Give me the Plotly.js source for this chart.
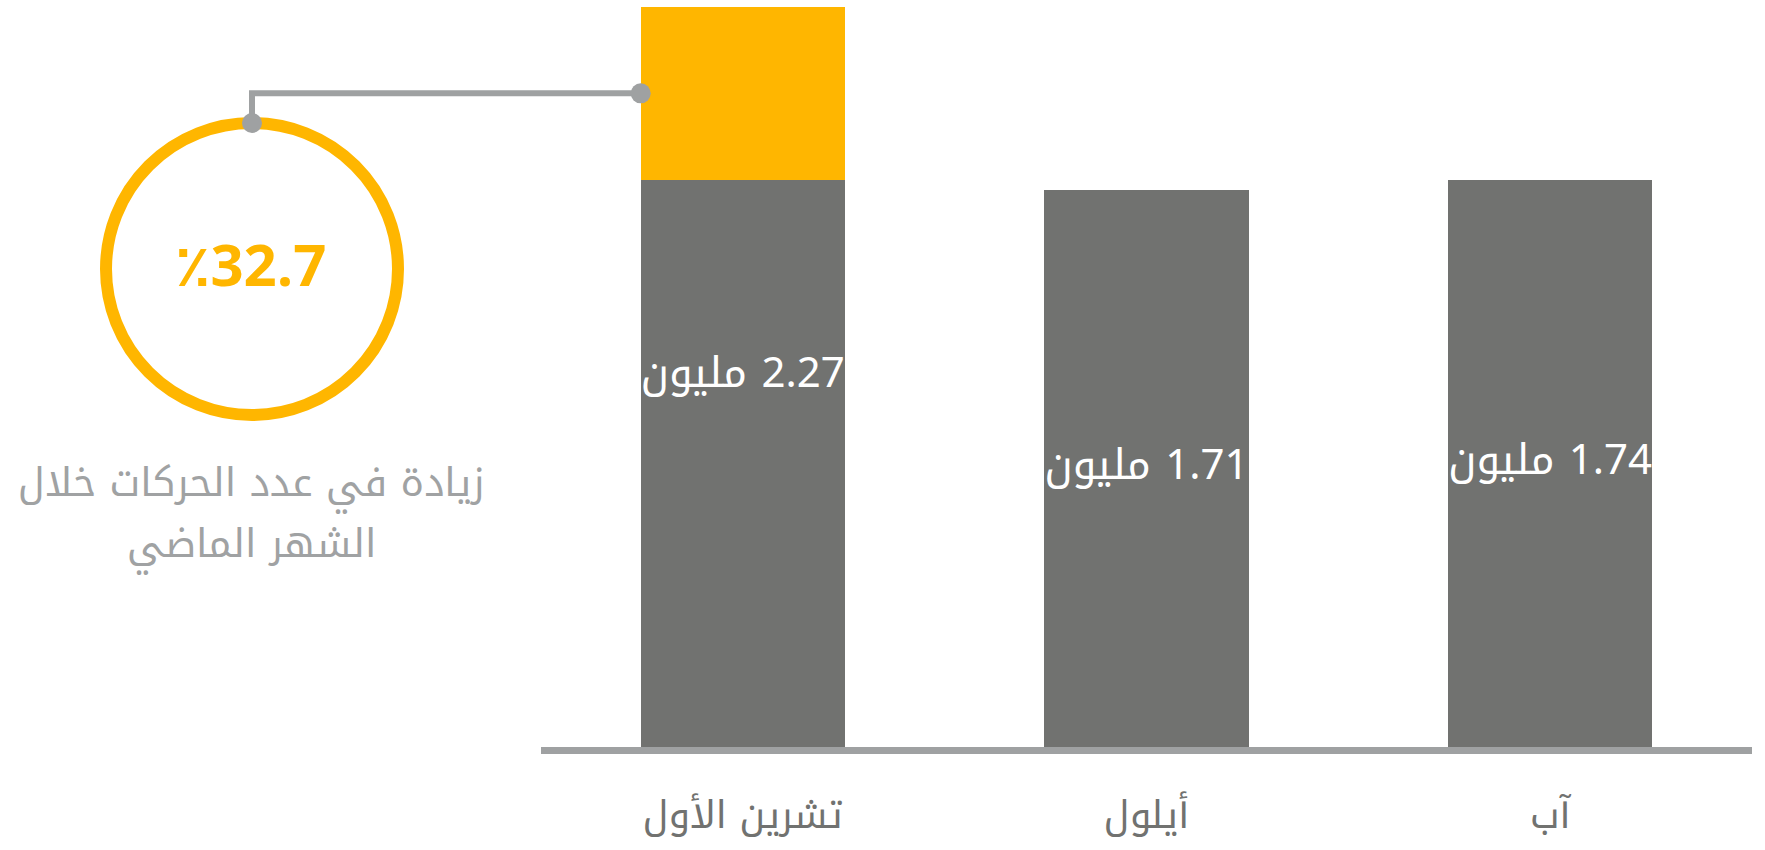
<!DOCTYPE html>
<html>
<head>
<meta charset="utf-8">
<script src="https://cdn.plot.ly/plotly-3.0.1.min.js"></script>
<style>html,body{margin:0;padding:0;background:#fff;}#chart{width:1765px;height:850px;}</style>
</head>
<body>
<div id="chart"></div>
<script>
// ---- data ----
const months = ['تشرين الأول', 'أيلول', 'آب'];
const monthTotals = [2.27, 1.71, 1.74];        // millions of transactions
const baseValues = [1.74, 1.71, 1.74];         // grey part of each bar
const increaseValues = [0.53, 0, 0];           // yellow part (increase)
const unitLabel = 'مليون';
const increasePct = '٪32.7';
const captionLines = ['زيادة في عدد الحركات خلال', 'الشهر الماضي'];

// ---- layout constants ----
const W = 1765, H = 850;
const M = {l: 541, r: 13, t: 0, b: 103};
const yMax = 2.2914;
const barGap = 0.494;
const YELLOW = '#FFB600', GREY_BAR = '#717270', GREY_LINE = '#9FA1A2', GREY_TEXT = '#A0A2A3';
const AR_FONT = '"Noto Kufi Arabic", "Droid Arabic Kufi", "Noto Sans Arabic", "Open Sans", "DejaVu Sans", sans-serif';

const pw = W - M.l - M.r, ph = H - M.t - M.b;
const pxX = px => (px - M.l) / pw;
const pxY = py => (H - M.b - py) / ph;

// connector end point from data: left edge of first bar, middle of yellow segment
const edgeX = (0 + 0.5 - (1 - barGap) / 2) / months.length;
const edgeY = (baseValues[0] + increaseValues[0] / 2) / yMax;

const cx = 252, cy = 269, cr = 146;

const traces = [
  {type: 'bar', x: months, y: baseValues, marker: {color: GREY_BAR}, hoverinfo: 'skip', showlegend: false},
  {type: 'bar', x: months, y: increaseValues, marker: {color: YELLOW}, hoverinfo: 'skip', showlegend: false},
  {type: 'scatter', mode: 'text', x: months, y: monthTotals.map(v => v / 2),
   text: monthTotals.map(v => '\u200F' + v.toFixed(2) + ' ' + unitLabel),
   textposition: 'middle center', textfont: {color: '#ffffff', size: 42, family: AR_FONT},
   cliponaxis: false, hoverinfo: 'skip', showlegend: false}
];

const cornerX = pxX(cx), cornerY = edgeY, dotY = pxY(cy - cr);

const layout = {
  width: W, height: H,
  margin: M,
  paper_bgcolor: '#ffffff', plot_bgcolor: '#ffffff',
  barmode: 'stack', bargap: barGap,
  showlegend: false,
  xaxis: {
    type: 'category', range: [-0.5, 2.5], autorange: false, fixedrange: true,
    showgrid: false, zeroline: false,
    showline: true, linecolor: GREY_LINE, linewidth: 7,
    ticks: '', ticklabelstandoff: 28,
    tickfont: {family: AR_FONT, size: 38, color: '#717270'}
  },
  yaxis: {range: [0, yMax], autorange: false, visible: false, showgrid: false, zeroline: false, fixedrange: true},
  shapes: [
    {type: 'circle', xref: 'paper', yref: 'paper',
     x0: pxX(cx - cr), x1: pxX(cx + cr), y0: pxY(cy + cr), y1: pxY(cy - cr),
     line: {color: YELLOW, width: 12}, fillcolor: 'rgba(0,0,0,0)'},
    {type: 'path', xref: 'paper', yref: 'paper',
     path: `M ${edgeX} ${edgeY} L ${cornerX} ${cornerY} L ${cornerX} ${dotY}`,
     line: {color: GREY_LINE, width: 6}},
    {type: 'circle', xref: 'paper', yref: 'paper', xsizemode: 'pixel', ysizemode: 'pixel',
     xanchor: cornerX, yanchor: dotY, x0: -10, x1: 10, y0: -10, y1: 10,
     fillcolor: GREY_LINE, line: {width: 0}},
    {type: 'circle', xref: 'paper', yref: 'paper', xsizemode: 'pixel', ysizemode: 'pixel',
     xanchor: edgeX, yanchor: edgeY, x0: -10, x1: 10, y0: -10, y1: 10,
     fillcolor: GREY_LINE, line: {width: 0}}
  ],
  annotations: [
    {xref: 'paper', yref: 'paper', x: pxX(250), y: pxY(263), showarrow: false,
     xanchor: 'center', yanchor: 'middle', text: '<b>' + increasePct + '</b>',
     font: {family: '"Open Sans", "DejaVu Sans", sans-serif', size: 58, color: YELLOW}},
    {xref: 'paper', yref: 'paper', x: pxX(251), y: pxY(482), showarrow: false,
     xanchor: 'center', yanchor: 'middle', text: captionLines[0],
     font: {family: AR_FONT, size: 39.5, color: GREY_TEXT}},
    {xref: 'paper', yref: 'paper', x: pxX(251), y: pxY(543), showarrow: false,
     xanchor: 'center', yanchor: 'middle', text: captionLines[1],
     font: {family: AR_FONT, size: 39.5, color: GREY_TEXT}}
  ]
};

Plotly.newPlot('chart', traces, layout, {staticPlot: true, displayModeBar: false});
</script>
</body>
</html>
